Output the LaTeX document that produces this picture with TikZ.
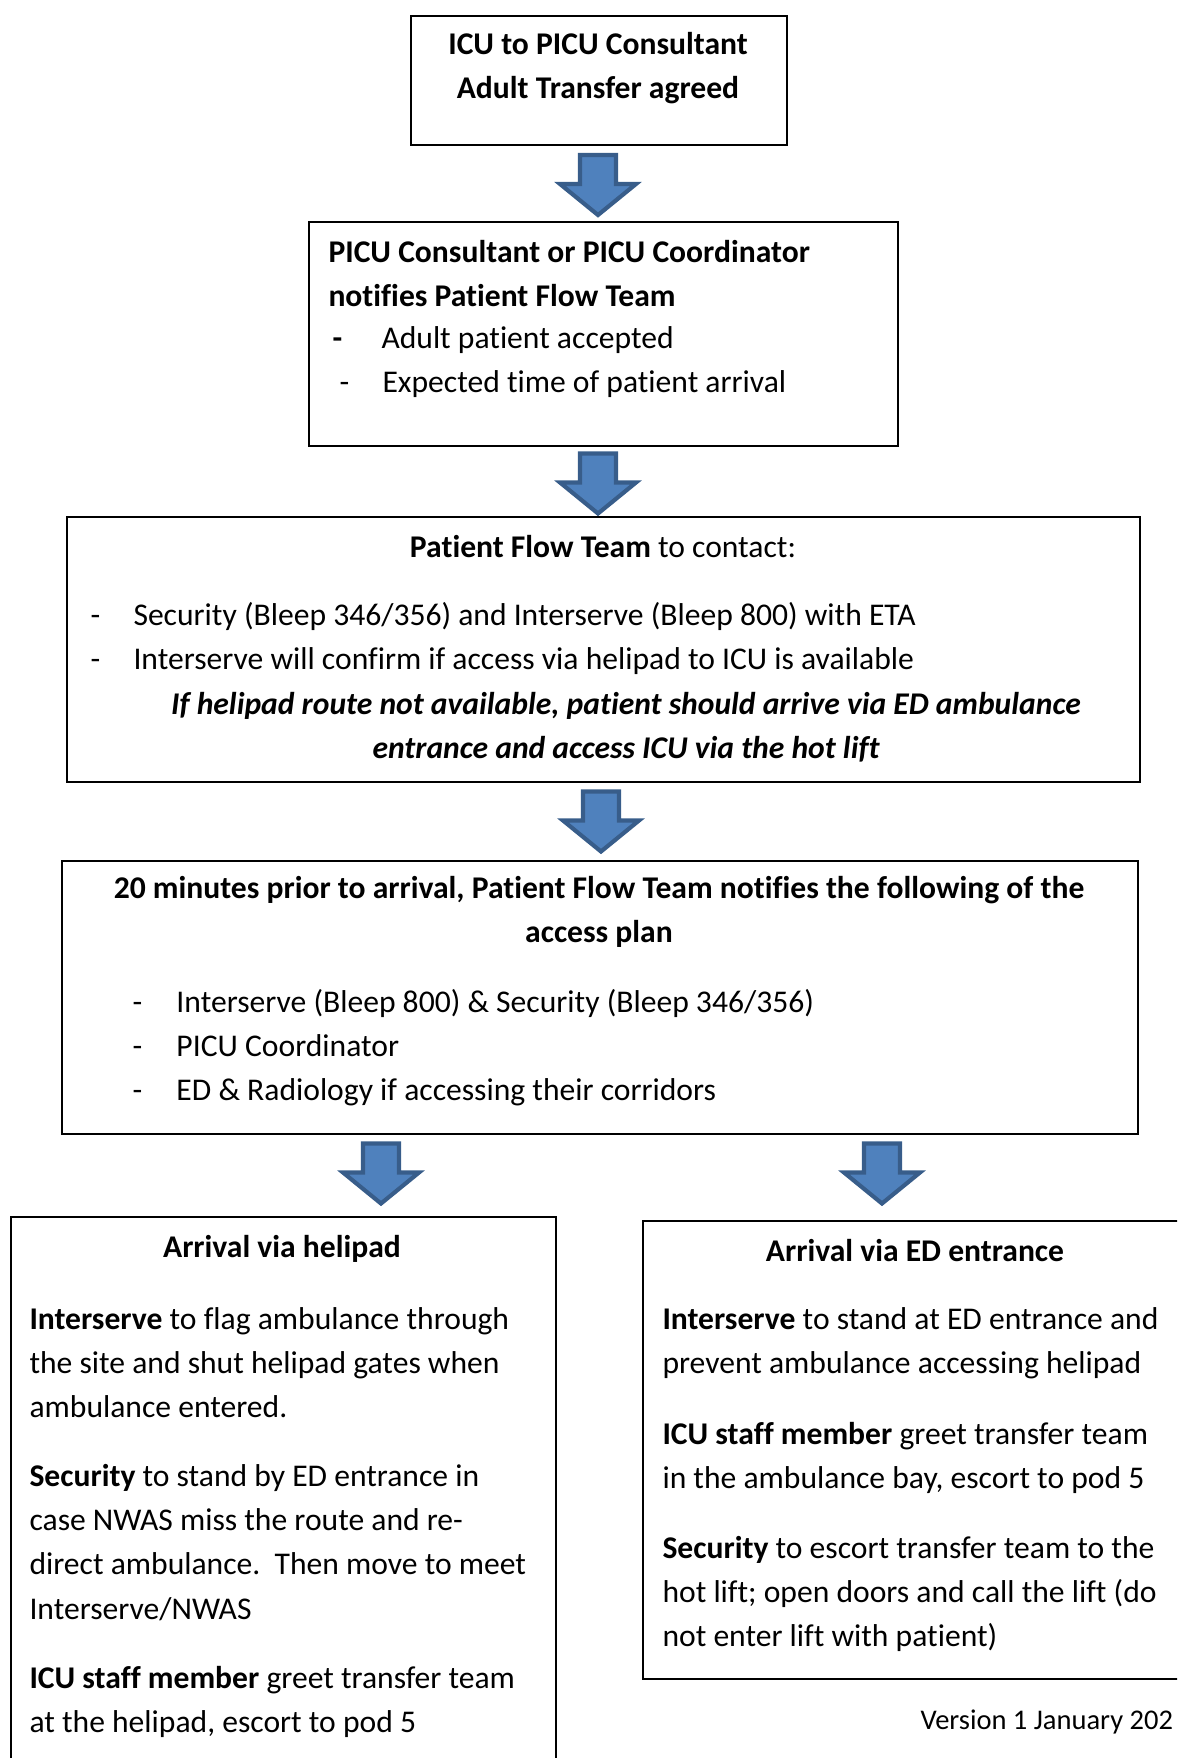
\documentclass[tikz,border=0pt]{standalone}
\usepackage{fontspec}
\setmainfont[Ligatures=NoCommon]{Carlito}
\usetikzlibrary{positioning, calc}
\definecolor{arrowfill}{RGB}{79,129,189}
\definecolor{arrowedge}{RGB}{56,93,138}
\newlength\pxu
\setlength\pxu{0.386pt}

\tikzset{
  frame/.style={draw, line width=0.6pt, inner sep=0, anchor=north west},
  txt/.style={inner sep=0, align=left, font=\fontsize{12.2}{17}\selectfont},
  hd/.style={inner sep=0, align=center, font=\fontsize{12.2}{17}\selectfont\bfseries},
  downarrow/.pic={
    \filldraw[fill=arrowfill, draw=arrowedge, line width=1.6pt, line join=miter]
      (-18,-30) -- (18,-30) -- (18,-1) -- (38,-1) -- (0,30)
      -- (-38,-1) -- (-18,-1) -- cycle;
  }
}

\begin{document}
\begin{tikzpicture}[x=0.386pt, y=-0.386pt]
  \useasboundingbox (0,0) rectangle (1177,1758);
  \clip (0,0) rectangle (1177,1758);

  % boxes
  \node[frame, minimum width=376\pxu, minimum height=129\pxu] (agreed) at (410,15) {};
  \node[frame, minimum width=589\pxu, minimum height=224\pxu] (notify) at (308,221) {};
  \node[frame, minimum width=1073\pxu, minimum height=265\pxu] (flow) at (66,516) {};
  \node[frame, minimum width=1076\pxu, minimum height=273\pxu] (access) at (61,860) {};
  \node[frame, minimum width=545\pxu, minimum height=554\pxu] (helipad) at (10,1216) {};
  \node[frame, minimum width=560\pxu, minimum height=458\pxu] (edroute) at (642,1220) {};

  % arrows
  \pic at (598,185) {downarrow};
  \pic at (598,483.5) {downarrow};
  \pic at (601,821.5) {downarrow};
  \pic at (381,1173.5) {downarrow};
  \pic at (882,1173.5) {downarrow};

  % top
  \node[hd] (agreedtxt) at (598,68) {ICU to PICU Consultant\\Adult Transfer agreed};

  \node[txt, anchor=west, font=\fontsize{12.2}{17}\selectfont\bfseries] (notifyhd) at (328,273.5)
    {PICU Consultant or PICU Coordinator\\notifies Patient Flow Team};
  \node[txt, anchor=west] (notifylist) at (332,362.5)
    {\makebox[49\pxu][l]{\textbf{-}}Adult patient accepted\\
     \hspace*{7\pxu}\makebox[43\pxu][l]{-}Expected time of patient arrival};

  % contact
  \node[hd, font=\fontsize{12.2}{17}\selectfont] (flowhd) at (603,547) {\textbf{Patient Flow Team} to contact:};
  \node[txt, anchor=west] (flowlist) at (90,638)
    {\makebox[43\pxu][l]{-}Security (Bleep 346/356) and Interserve (Bleep 800) with ETA\\
     \makebox[43\pxu][l]{-}Interserve will confirm if access via helipad to ICU is available};
  \node[hd, font=\fontsize{12.2}{17}\selectfont\bfseries\itshape] (flownote) at (626,727)
    {If helipad route not available, patient should arrive via ED ambulance\\entrance and access ICU via the hot lift};

  % access plan
  \node[hd] (accesshd) at (599,912)
    {20 minutes prior to arrival, Patient Flow Team notifies the following of the\\access plan};
  \node[txt, anchor=west] (accesslist) at (132,1047.5)
    {\makebox[44\pxu][l]{-}Interserve (Bleep 800) \& Security (Bleep 346/356)\\
     \makebox[44\pxu][l]{-}PICU Coordinator\\
     \makebox[44\pxu][l]{-}ED \& Radiology if accessing their corridors};

  % helipad
  \node[hd] (helipadhd) at (282,1249) {Arrival via helipad};
  \node[txt, anchor=west] (helipad1) at (29,1363)
    {\textbf{Interserve} to flag ambulance through\\the site and shut helipad gates when\\ambulance entered.};
  \node[txt, anchor=west] (helipad2) at (29,1542.5)
    {\textbf{Security} to stand by ED entrance in\\case NWAS miss the route and re-\\direct ambulance.\ \ Then move to meet\\Interserve/NWAS};
  \node[txt, anchor=west] (helipad3) at (29,1701.5)
    {\textbf{ICU staff member} greet transfer team\\at the helipad, escort to pod 5};

  % ED entrance
  \node[hd] (edroutehd) at (915,1251) {Arrival via ED entrance};
  \node[txt, anchor=west] (edroute1) at (662,1343.5)
    {\textbf{Interserve} to stand at ED entrance and\\prevent ambulance accessing helipad};
  \node[txt, anchor=west] (edroute2) at (662,1457.5)
    {\textbf{ICU staff member} greet transfer team\\in the ambulance bay, escort to pod 5};
  \node[txt, anchor=west] (edroute3) at (662,1593.5)
    {\textbf{Security} to escort transfer team to the\\hot lift; open doors and call the lift (do\\not enter lift with patient)};

  \node[txt, anchor=west, font=\fontsize{11}{14}\selectfont] (version) at (920,1722) {Version 1 January 202};
\end{tikzpicture}
\end{document}
